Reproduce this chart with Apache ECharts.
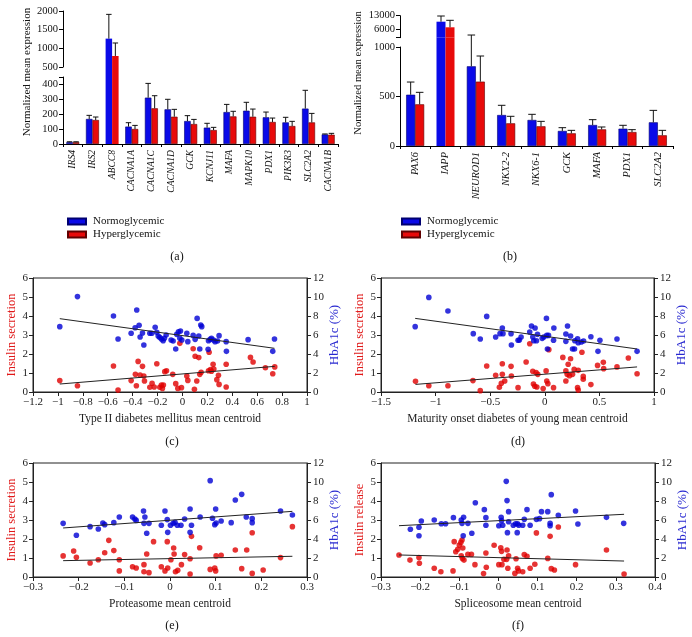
<!DOCTYPE html>
<html><head><meta charset="utf-8">
<script src="https://cdn.jsdelivr.net/npm/echarts@6/dist/echarts.min.js"></script>
<style>html,body{margin:0;padding:0;background:#fff}#c{width:692px;height:637px}</style>
</head><body><div id="c"></div>
<script>
// ---------- DATA ----------
const catsA = ['IRS4','IRS2','ABCC8','CACNA1A','CACNA1C','CACNA1D','GCK','KCNJ11','MAFA','MAPK10','PDX1','PIK3R3','SLC2A2','CACNA1B'];
const normA = [12,167,1260,116,309,231,153,109,213,222,178,144,236,64];
const hyperA = [12,160,795,100,238,182,133,93,184,182,147,120,144,62];
const normTopA = [15,191,1910,142,404,298,189,138,264,278,213,178,358,67];
const hyperTopA = [15,180,1143,124,322,231,164,111,218,233,173,151,204,71];
const ticksA_upper = [500,1000,1500,2000];
const ticksA_lower = [0,100,200,300,400];

const catsB = ['PAX6','IAPP','NEUROD1','NKX2-2','NKX6-1','GCK','MAFA','PDX1','SLC2A2'];
const normB = [518,9844,805,313,263,152,212,175,239];
const hyperB = [421,6898,650,229,199,128,168,141,108];
const normTopB = [646,12842,1121,411,320,185,266,209,360];
const hyperTopB = [542,10579,909,300,249,158,192,165,158];
const ticksB_upper = [6000,13000];
const ticksB_lower = [0,500,1000];

const cBlue = [[-0.985,6.88],[-0.843,10.04],[-0.554,8.0],[-0.517,5.58],[-0.367,8.63],[-0.412,6.18],[-0.38,6.77],[-0.348,7.02],[-0.34,5.79],[-0.321,6.21],[-0.31,4.95],[-0.262,6.18],[-0.246,6.18],[-0.219,6.81],[-0.206,6.28],[-0.195,5.89],[-0.182,5.75],[-0.169,5.58],[-0.155,5.4],[-0.145,5.65],[-0.131,6.0],[-0.091,5.47],[-0.075,5.37],[-0.054,4.53],[-0.046,6.07],[-0.032,6.35],[-0.021,5.65],[-0.016,6.42],[-0.005,5.47],[0.035,6.18],[0.043,5.3],[0.086,5.96],[0.102,5.54],[0.118,7.75],[0.131,5.89],[0.139,4.53],[0.147,7.05],[0.155,6.88],[0.206,4.49],[0.209,5.4],[0.222,5.54],[0.233,5.65],[0.249,5.47],[0.262,5.3],[0.281,5.37],[0.294,5.93],[0.351,5.3],[0.353,4.28],[0.527,5.51],[0.725,4.28],[0.739,5.58]];
const cRed = [[-0.985,0.6],[-0.843,0.33],[-0.554,1.37],[-0.517,0.1],[-0.412,0.6],[-0.378,0.93],[-0.37,0.33],[-0.356,1.61],[-0.34,0.89],[-0.321,1.35],[-0.31,0.84],[-0.305,0.58],[-0.262,0.25],[-0.244,0.46],[-0.227,0.26],[-0.206,1.49],[-0.182,0.25],[-0.169,0.37],[-0.161,0.19],[-0.153,0.37],[-0.142,1.07],[-0.128,1.12],[-0.078,0.93],[-0.054,0.44],[-0.037,0.19],[-0.021,2.56],[-0.008,0.23],[0.035,0.84],[0.043,0.61],[0.086,2.28],[0.096,0.14],[0.102,1.88],[0.115,0.58],[0.131,1.81],[0.139,0.93],[0.15,1.04],[0.209,1.12],[0.214,2.09],[0.225,1.18],[0.233,1.09],[0.246,1.46],[0.252,1.21],[0.276,0.65],[0.289,0.88],[0.294,0.4],[0.351,1.46],[0.351,0.26],[0.546,1.82],[0.567,1.58],[0.666,1.28],[0.725,0.96],[0.741,1.32]];
const cBlueTrend = [[-0.985,7.72],[0.739,4.6]];
const cRedTrend = [[-0.985,0.42],[0.741,1.35]];

const dBlue = [[-1.187,6.88],[-1.062,9.96],[-0.887,8.53],[-0.655,6.14],[-0.591,5.58],[-0.532,7.96],[-0.45,5.79],[-0.41,6.14],[-0.389,6.74],[-0.383,6.14],[-0.309,6.14],[-0.306,4.95],[-0.245,5.44],[-0.233,5.47],[-0.217,5.79],[-0.138,6.32],[-0.122,6.95],[-0.11,5.79],[-0.101,5.4],[-0.089,6.74],[-0.076,5.4],[-0.067,6.07],[-0.024,5.65],[-0.009,5.79],[0.015,7.75],[0.018,5.96],[0.024,4.53],[0.034,5.96],[0.08,5.44],[0.083,6.74],[0.193,6.1],[0.193,5.33],[0.208,6.95],[0.236,5.89],[0.254,4.53],[0.272,4.53],[0.275,5.4],[0.3,5.61],[0.306,5.19],[0.334,5.26],[0.355,5.37],[0.422,5.82],[0.487,4.28],[0.505,5.44],[0.661,5.58],[0.845,4.28]];
const dRed = [[-1.184,0.56],[-1.062,0.33],[-0.887,0.33],[-0.658,0.6],[-0.591,0.07],[-0.532,1.37],[-0.45,0.88],[-0.416,0.25],[-0.398,0.46],[-0.389,1.49],[-0.389,0.93],[-0.367,0.58],[-0.309,1.35],[-0.306,0.84],[-0.245,0.23],[-0.171,1.58],[-0.138,2.54],[-0.11,1.09],[-0.104,0.42],[-0.092,0.3],[-0.08,1.02],[-0.073,0.26],[-0.064,0.93],[-0.015,0.18],[0.012,1.11],[0.018,0.58],[0.028,0.44],[0.037,2.23],[0.08,0.23],[0.165,1.82],[0.193,1.11],[0.193,0.58],[0.205,0.93],[0.214,1.46],[0.226,0.86],[0.236,1.75],[0.254,0.93],[0.269,1.19],[0.3,0.23],[0.306,0.1],[0.306,1.14],[0.34,2.09],[0.352,0.67],[0.352,0.82],[0.422,0.39],[0.483,1.4],[0.536,1.56],[0.539,1.23],[0.661,1.32],[0.765,1.79],[0.845,0.96]];
const dBlueTrend = [[-1.187,7.75],[0.845,4.53]];
const dRedTrend = [[-1.184,0.4],[0.845,1.32]];

const eBlue = [[-0.234,5.65],[-0.205,4.39],[-0.175,5.3],[-0.157,5.05],[-0.147,5.68],[-0.143,5.51],[-0.123,5.72],[-0.111,6.32],[-0.082,6.32],[-0.077,6.1],[-0.074,5.96],[-0.058,6.95],[-0.055,6.32],[-0.057,5.65],[-0.051,4.6],[-0.046,5.65],[-0.019,5.44],[-0.011,6.95],[-0.006,6.04],[-0.005,4.7],[0.001,5.44],[0.007,5.65],[0.011,5.75],[0.016,5.44],[0.024,5.44],[0.032,6.1],[0.044,7.16],[0.044,4.7],[0.047,5.44],[0.066,6.32],[0.088,10.14],[0.093,6.18],[0.1,7.16],[0.098,5.51],[0.101,5.68],[0.112,5.89],[0.134,5.72],[0.143,8.1],[0.157,8.7],[0.167,6.32],[0.18,6.14],[0.18,5.72],[0.242,6.95],[0.268,6.53]];
const eRed = [[-0.234,1.11],[-0.211,1.37],[-0.205,1.04],[-0.175,0.74],[-0.157,0.91],[-0.143,1.28],[-0.134,1.93],[-0.123,1.39],[-0.111,0.91],[-0.111,0.32],[-0.082,0.54],[-0.074,0.47],[-0.057,0.65],[-0.057,0.28],[-0.051,1.21],[-0.046,0.23],[-0.036,1.86],[-0.019,0.54],[-0.011,0.32],[-0.006,1.86],[-0.005,0.47],[0.002,0.91],[0.008,1.53],[0.009,1.21],[0.012,0.28],[0.017,0.35],[0.025,0.65],[0.032,1.18],[0.044,0.96],[0.044,0.16],[0.047,2.14],[0.065,1.54],[0.088,0.4],[0.098,0.47],[0.1,0.32],[0.101,1.11],[0.112,1.14],[0.143,1.42],[0.157,0.44],[0.168,1.42],[0.18,2.33],[0.18,0.19],[0.204,0.37],[0.242,1.02],[0.268,2.65]];
const eBlueTrend = [[-0.234,5.16],[0.268,6.91]];
const eRedTrend = [[-0.234,0.86],[0.268,1.09]];

const fBlue = [[-0.225,5.02],[-0.203,5.23],[-0.203,4.35],[-0.197,5.89],[-0.164,6.0],[-0.146,5.61],[-0.135,5.61],[-0.115,6.25],[-0.095,6.0],[-0.093,5.65],[-0.089,6.28],[-0.09,4.35],[-0.078,5.65],[-0.068,4.6],[-0.059,7.82],[-0.036,7.09],[-0.032,6.25],[-0.032,5.44],[0.001,5.4],[0.007,6.28],[0.008,5.93],[0.011,5.44],[0.02,10.07],[0.022,8.04],[0.023,4.67],[0.026,6.88],[0.026,5.82],[0.038,5.44],[0.044,5.61],[0.049,5.61],[0.048,4.67],[0.052,5.44],[0.062,5.44],[0.066,6.07],[0.073,7.09],[0.081,5.44],[0.097,6.07],[0.105,6.14],[0.11,6.88],[0.126,6.88],[0.132,5.65],[0.132,5.4],[0.135,8.67],[0.153,6.49],[0.197,6.95],[0.203,5.58],[0.276,6.28],[0.32,5.65]];
const fRed = [[-0.254,1.16],[-0.226,0.89],[-0.203,1.02],[-0.202,0.72],[-0.164,0.46],[-0.147,0.28],[-0.116,0.32],[-0.113,1.86],[-0.109,1.33],[-0.104,1.46],[-0.1,1.68],[-0.096,1.82],[-0.093,1.95],[-0.091,1.53],[-0.095,1.12],[-0.092,0.98],[-0.088,0.89],[-0.078,1.19],[-0.069,1.19],[-0.06,0.65],[-0.038,0.18],[-0.032,1.26],[-0.031,0.51],[-0.011,1.67],[0.001,0.65],[0.006,1.54],[0.008,1.35],[0.009,0.65],[0.014,0.93],[0.021,0.93],[0.022,1.42],[0.026,1.12],[0.024,0.46],[0.042,0.19],[0.045,0.96],[0.049,0.46],[0.051,0.32],[0.062,0.28],[0.066,1.18],[0.073,1.09],[0.081,0.46],[0.093,0.67],[0.097,2.32],[0.126,0.98],[0.132,2.14],[0.135,0.44],[0.143,0.37],[0.153,2.63],[0.197,0.65],[0.276,1.42],[0.321,0.16]];
const fBlueTrend = [[-0.254,5.4],[0.321,6.6]];
const fRedTrend = [[-0.254,1.16],[0.321,0.84]];

// ---------- STYLE ----------
const FONT = '"Liberation Serif","DejaVu Serif",serif';
const BLUE = '#0a0ae8', RED = '#e80a0a';
const PBLUE = '#0000d4', PRED = '#e00000';
const grids = [], xAxes = [], yAxes = [], series = [];

function addBarPanel(cfg) {
  const nSeg = cfg.segs.length;
  const lowerMax = cfg.segs[nSeg - 1].max;
  cfg.segs.forEach((s, k) => {
    const gi = grids.length;
    const yi = yAxes.length;
    const isLower = k === nSeg - 1;
    grids.push({left: cfg.left, width: cfg.width, top: s.top, height: s.height});
    xAxes.push({
      type: 'category', gridIndex: gi, data: cfg.cats, show: isLower,
      axisLine: {show: true, lineStyle: {color: '#000', width: 1}},
      axisTick: {show: true, length: 3, lineStyle: {color: '#000'}},
      axisLabel: {rotate: 90, interval: 0, fontFamily: FONT, fontStyle: 'italic', fontSize: cfg.catSize, color: '#111', margin: 6}
    });
    yAxes.push({
      type: 'value', gridIndex: gi, min: s.min, max: s.max, show: !!s.axis,
      splitLine: {show: false},
      axisLine: {show: true, lineStyle: {color: '#000', width: 1}},
      axisTick: {show: true, length: 4, customValues: s.ticks, lineStyle: {color: '#000'}},
      axisLabel: {customValues: s.labels, formatter: v => String(v), fontFamily: FONT, fontSize: 10.5, color: '#111', margin: 5}
    });
    const mk = (vals, color, border) => vals.map(v => {
      if (!isLower && v < s.min) return '-';
      const spans = v > lowerMax;
      return {value: v, itemStyle: {color: color, borderColor: border, borderWidth: spans ? 0 : 0.6}};
    });
    series.push({type: 'bar', name: 'Normoglycemic', xAxisIndex: gi, yAxisIndex: yi, barWidth: cfg.bw, barGap: '0%',
      data: mk(cfg.norm, BLUE, '#000070'), itemStyle: {color: BLUE, borderColor: '#000070', borderWidth: 0.6}, silent: true});
    series.push({type: 'bar', name: 'Hyperglycemic', xAxisIndex: gi, yAxisIndex: yi, barWidth: cfg.bw, barGap: '0%',
      data: mk(cfg.hyper, RED, '#600000'), itemStyle: {color: RED, borderColor: '#600000', borderWidth: 0.6}, silent: true});
    if (k === 0 || isLower) {
      const errData = [];
      cfg.cats.forEach((c, i) => {
        const inUpper = cfg.norm[i] > lowerMax;
        if ((k === 0 && inUpper) || (isLower && !inUpper)) {
          errData.push([i, cfg.norm[i], cfg.normTop[i], -1]);
          errData.push([i, cfg.hyper[i], cfg.hyperTop[i], 1]);
        }
      });
      series.push({
        type: 'custom', xAxisIndex: gi, yAxisIndex: yi, silent: true, clip: false, z: 5,
        data: errData,
        renderItem: (params, api) => {
          const i = api.value(0), v = api.value(1), t = api.value(2), side = api.value(3);
          const p0 = api.coord([i, v]);
          const p1 = api.coord([i, t]);
          const x = p0[0] + side * cfg.bw / 2;
          const cap = cfg.bw * 0.42;
          const st = {stroke: '#111', lineWidth: 1};
          return {type: 'group', children: [
            {type: 'line', shape: {x1: x, y1: p0[1], x2: x, y2: p1[1]}, style: st},
            {type: 'line', shape: {x1: x - cap, y1: p1[1], x2: x + cap, y2: p1[1]}, style: st}
          ]};
        }
      });
    }
  });
}

addBarPanel({
  left: 63, width: 275, cats: catsA, norm: normA, hyper: hyperA, normTop: normTopA, hyperTop: hyperTopA,
  bw: 6.5, catSize: 9.6,
  segs: [
    {top: 11, height: 56, min: 500, max: 2000, axis: true, ticks: ticksA_upper, labels: ticksA_upper},
    {top: 67, height: 10, min: 446.7, max: 500, axis: false},
    {top: 77, height: 67, min: 0, max: 446.7, axis: true, ticks: ticksA_lower.concat([446.7]), labels: ticksA_lower}
  ]
});
addBarPanel({
  left: 400, width: 273, cats: catsB, norm: normB, hyper: hyperB, normTop: normTopB, hyperTop: hyperTopB,
  bw: 9, catSize: 10.4,
  segs: [
    {top: 15.7, height: 22, min: 1421, max: 13000, axis: true, ticks: [1421].concat(ticksB_upper), labels: ticksB_upper},
    {top: 37.7, height: 9.3, min: 1000, max: 1094, axis: false},
    {top: 47, height: 99, min: 0, max: 1000, axis: true, ticks: ticksB_lower, labels: ticksB_lower}
  ]
});

const fmt = v => String(Math.round(v * 10) / 10).replace('-', '\u2212');
function addScatter(cfg) {
  const gi = grids.length;
  const yl = yAxes.length;
  grids.push({left: cfg.left, top: cfg.top, width: cfg.width, height: 114, show: true, borderColor: '#222', borderWidth: 1, backgroundColor: 'rgba(0,0,0,0)'});
  const lab = {fontFamily: FONT, fontSize: 11, color: '#222'};
  const line = {show: true, onZero: false, lineStyle: {color: '#222', width: 1}};
  const tick = {show: true, length: 4, inside: false, lineStyle: {color: '#222'}};
  xAxes.push({type: 'value', gridIndex: gi, min: cfg.xmin, max: cfg.xmax, interval: cfg.xint,
    axisLine: line, axisTick: tick, splitLine: {show: false},
    axisLabel: Object.assign({formatter: fmt, margin: 5}, lab),
    name: cfg.xName, nameLocation: 'middle', nameGap: 21,
    nameTextStyle: {fontFamily: FONT, fontSize: 11.5, color: '#222'}});
  yAxes.push({type: 'value', gridIndex: gi, position: 'left', min: 0, max: 6, interval: 1,
    axisLine: line, axisTick: tick, splitLine: {show: false},
    axisLabel: Object.assign({margin: 5}, lab),
    name: cfg.leftName, nameLocation: 'middle', nameGap: 14,
    nameTextStyle: {fontFamily: FONT, fontSize: 12.5, color: '#e01818'}});
  yAxes.push({type: 'value', gridIndex: gi, position: 'right', min: 0, max: 12, interval: 2,
    axisLine: line, axisTick: tick, splitLine: {show: false},
    axisLabel: Object.assign({margin: 6}, lab),
    name: 'HbA1c (%)', nameLocation: 'middle', nameGap: 20,
    nameTextStyle: {fontFamily: FONT, fontSize: 13, color: '#2828d0'}});
  series.push({type: 'scatter', xAxisIndex: gi, yAxisIndex: yl, data: cfg.red, symbolSize: 5.6, itemStyle: {color: PRED}, silent: true});
  series.push({type: 'scatter', xAxisIndex: gi, yAxisIndex: yl + 1, data: cfg.blue, symbolSize: 5.6, itemStyle: {color: PBLUE}, silent: true});
  series.push({type: 'line', xAxisIndex: gi, yAxisIndex: yl + 1, data: cfg.blueTrend, symbol: 'none', lineStyle: {color: '#222', width: 1}, silent: true, z: 3});
  series.push({type: 'line', xAxisIndex: gi, yAxisIndex: yl, data: cfg.redTrend, symbol: 'none', lineStyle: {color: '#222', width: 1}, silent: true, z: 3});
}

addScatter({left: 33, top: 278, width: 274, xmin: -1.2, xmax: 1, xint: 0.2, xName: 'Type II diabetes mellitus mean centroid', leftName: 'Insulin secretion', red: cRed, blue: cBlue, redTrend: cRedTrend, blueTrend: cBlueTrend});
addScatter({left: 381, top: 278, width: 273, xmin: -1.5, xmax: 1, xint: 0.5, xName: 'Maturity onset diabetes of young mean centroid', leftName: 'Insulin secretion', red: dRed, blue: dBlue, redTrend: dRedTrend, blueTrend: dBlueTrend});
addScatter({left: 33, top: 463, width: 274, xmin: -0.3, xmax: 0.3, xint: 0.1, xName: 'Proteasome mean centroid', leftName: 'Insulin secretion', red: eRed, blue: eBlue, redTrend: eRedTrend, blueTrend: eBlueTrend});
addScatter({left: 381, top: 463, width: 274, xmin: -0.3, xmax: 0.4, xint: 0.1, xName: 'Spliceosome mean centroid', leftName: 'Insulin release', red: fRed, blue: fBlue, redTrend: fRedTrend, blueTrend: fBlueTrend});

const txt = (x, y, s, size, rot) => ({type: 'text', x: x, y: y, rotation: rot || 0,
  style: {text: s, fontFamily: FONT, fontSize: size, fill: '#111', textAlign: 'center', textVerticalAlign: 'middle'}});

const legendBase = {data: ['Normoglycemic', 'Hyperglycemic'], orient: 'vertical', icon: 'rect', itemWidth: 18, itemHeight: 6, itemGap: 2, selectedMode: false,
  textStyle: {fontFamily: FONT, fontSize: 11, color: '#111', padding: [0, 0, 0, 2]}, padding: 0};

const chart = echarts.init(document.getElementById('c'), null, {renderer: 'canvas'});
chart.setOption({
  animation: false,
  backgroundColor: '#fff',
  legend: [Object.assign({left: 67, top: 216}, legendBase), Object.assign({left: 401, top: 216}, legendBase)],
  grid: grids, xAxis: xAxes, yAxis: yAxes, series: series,
  graphic: [
    txt(27, 72, 'Normalized mean expression', 11, Math.PI / 2),
    txt(358, 73, 'Normalized mean expression', 10.6, Math.PI / 2),
    txt(177, 257, '(a)', 12), txt(510, 257, '(b)', 12),
    txt(172, 442, '(c)', 12), txt(518, 442, '(d)', 12),
    txt(172, 626, '(e)', 12), txt(518, 626, '(f)', 12)
  ]
});
</script></body></html>
